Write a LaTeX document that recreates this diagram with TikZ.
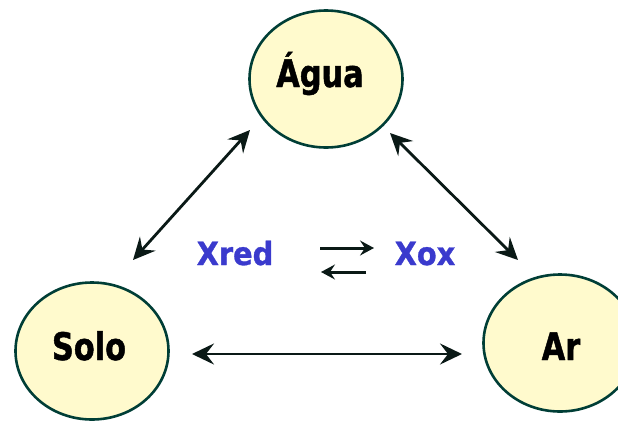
\documentclass[tikz,border=0pt]{standalone}
\usepackage{fontspec}
\setmainfont{DejaVu Sans}
\newfontfamily\lblfont{DejaVu Sans}[FakeStretch=0.8, FakeBold=1.2]
\newfontfamily\specfont{DejaVu Sans}[FakeStretch=0.9, FakeBold=1.0]
\usetikzlibrary{arrows.meta,shapes.geometric}
\definecolor{fillc}{RGB}{255,250,205}
\definecolor{edgec}{RGB}{0,62,54}
\definecolor{bluec}{RGB}{58,58,205}
\definecolor{arrc}{RGB}{10,25,22}
\tikzset{
  phase/.style={ellipse, draw=edgec, fill=fillc, line width=2.6pt, minimum width=153pt, minimum height=137pt, inner sep=0pt},
  lbl/.style={font=\lblfont\fontsize{38}{38}\selectfont\bfseries, text=black, anchor=base, inner sep=0pt},
  spec/.style={font=\specfont\fontsize{32}{32}\selectfont\bfseries, text=bluec, anchor=base, inner sep=0pt},
  bigarr/.style={draw=arrc, line width=2.8pt, {Stealth[length=22pt,width=21pt,inset=8pt]}-{Stealth[length=22pt,width=21pt,inset=8pt]}},
  smallarr/.style={draw=arrc, line width=3pt, -{Stealth[length=14pt,width=15pt,inset=5pt]}}
}
\begin{document}
\begin{tikzpicture}[x=1pt,y=-1pt]
\useasboundingbox (0,0) rectangle (618,421);
\node[phase] (agua) at (326,79) {};
\node[phase] (solo) at (92,351) {};
\node[phase] (ar) at (560,343) {};
\node[lbl] (tagua) at (320,87) {Água};
\node[lbl] (tsolo) at (89,360) {Solo};
\node[lbl] (tar) at (561,360) {Ar};
\node[spec] (xred) at (235,265) {Xred};
\node[spec] (xox) at (425,265) {Xox};
\coordinate (a1) at (250,130);
\coordinate (a2) at (133,260);
\coordinate (b1) at (390,133);
\coordinate (b2) at (518,260);
\coordinate (c1) at (192,354);
\coordinate (c2) at (462,354);
\draw[bigarr] (a1) -- (a2);
\draw[bigarr] (b1) -- (b2);
\draw[bigarr] (c1) -- (c2);
\coordinate (r1) at (320,248);
\coordinate (r2) at (374,248);
\coordinate (l1) at (366,272);
\coordinate (l2) at (321,272);
\draw[smallarr] (r1) -- (r2);
\draw[smallarr] (l1) -- (l2);
\end{tikzpicture}
\end{document}
